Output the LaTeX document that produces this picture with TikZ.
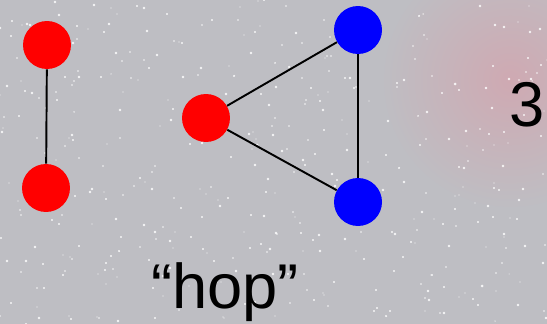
\documentclass[tikz,border=0pt]{standalone}
\usepackage{fontspec}
\setmainfont{Liberation Sans}
\usetikzlibrary{positioning}
\definecolor{SkyGrey}{HTML}{BEBEC3}
\definecolor{NebulaPink}{HTML}{CFA9B2}
\definecolor{VertexRed}{HTML}{FF0000}
\definecolor{VertexBlue}{HTML}{0000FF}
\tikzset{
    % Red vertex
    redvertex/.style={
        circle,
        fill=VertexRed,
        minimum size=0.96cm,
        inner sep=0pt
    },
    % Blue vertex
    bluevertex/.style={
        circle,
        fill=VertexBlue,
        minimum size=0.96cm,
        inner sep=0pt
    },
    % Edge style
    edge/.style={
        line width=1.1pt,
        color=black
    },
    % Large label
    biglabel/.style={
        font=\fontsize{36}{40}\selectfont,
        inner sep=0pt
    }
}

\begin{document}
\begin{tikzpicture}[x=0.02cm, y=-0.02cm]
    % Background sky
    \fill[SkyGrey] (0,0) rectangle (547,324);
    \useasboundingbox (0,0) rectangle (547,324);
    \begin{scope}
        \clip (0,0) rectangle (547,324);
        \shade[inner color=NebulaPink, outer color=SkyGrey] (510,80) circle (130);
        % Stars
        \pgfmathsetseed{7}
        \foreach \i in {1,...,420} {
            \pgfmathsetmacro{\sx}{random(0,547)}
            \pgfmathsetmacro{\sy}{random(0,324)}
            \pgfmathsetmacro{\sr}{0.5+1.0*rnd}
            \fill[white, opacity=0.85] (\sx,\sy) circle (\sr);
        }
    \end{scope}

    % Pair
    \node (p1) [redvertex] at (47,45) {};
    \node (p2) [redvertex] at (46,188) {};
    \draw [edge] (p1) -- (p2);

    % Triangle
    \node (t1) [redvertex] at (206,118) {};
    \node (t2) [bluevertex] at (358,30) {};
    \node (t3) [bluevertex] at (358,202) {};
    \draw [edge] (t1) -- (t2);
    \draw [edge] (t2) -- (t3);
    \draw [edge] (t1) -- (t3);

    % Labels
    \node (count) [biglabel] at (527,105) {3};
    \node (hop) [biglabel, anchor=base] at (225,308) {“hop”};
\end{tikzpicture}
\end{document}
